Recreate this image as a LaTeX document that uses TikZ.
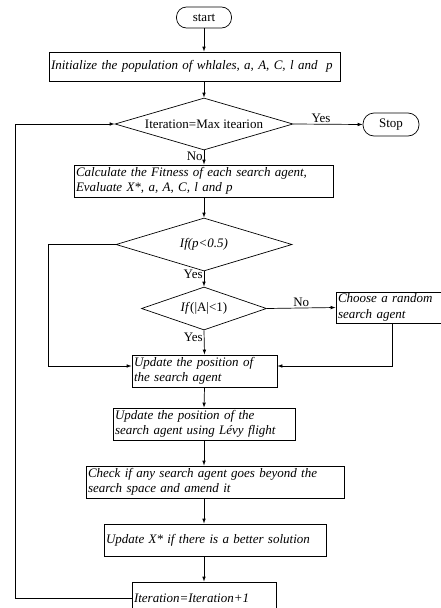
\documentclass[tikz,border=0pt]{standalone}
\usepackage{fontspec}
\setmainfont{Liberation Serif}
\usetikzlibrary{shapes.geometric,arrows.meta,positioning,calc}

\begin{document}
\begin{tikzpicture}[x=1pt, y=-1pt, line width=0.7pt,
  font=\fontsize{13}{15.5}\selectfont,
  procbox/.style={rectangle, draw, inner sep=2pt, align=left, font=\fontsize{13}{15.5}\selectfont\itshape},
  decision/.style={diamond, draw, inner sep=0pt, aspect=3.4},
  term/.style={rectangle, draw, rounded corners=10pt, inner sep=0pt},
  arr/.style={-{Latex[length=5pt,width=3.6pt]}},
  lbl/.style={inner sep=1pt}
]
  \useasboundingbox (0,0) rectangle (441,608);
  % start and initialization
  \node[term, minimum width=55, minimum height=21] (start) at (204,17.5) {start};
  \node[procbox, text width=287, minimum height=29] (init) at (194.5,66.5) {Initialize the population of whlales, a, A, C, l and~~p};
  % main loop test
  \node[decision, minimum width=178, minimum height=52] (d1) at (204,124) {Iteration=Max itearion};
  \node[term, minimum width=56, minimum height=23, rounded corners=11pt] (stop) at (391,124.5) {Stop};
  \node[procbox, text width=255, minimum height=32] (calc) at (203.5,181) {Calculate the Fitness of each search agent,\\Evaluate X*, a, A, C, l and p};
  % branches
  \node[decision, minimum width=176, minimum height=53] (d2) at (204,244.5) {\itshape If(p\textless0.5)};
  \node[decision, minimum width=125, minimum height=43, aspect=2.9] (d3) at (204,308.5) {\textit{If}(|A|\textless1)};
  \node[procbox, text width=102, minimum height=31] (choose) at (389,307.5) {Choose a random\\search agent};
  % updates
  \node[procbox, text width=141, minimum height=32] (upd1) at (204.5,371) {Update the position of\\the search agent};
  \node[procbox, text width=178, minimum height=32] (upd2) at (204,424) {Update the position of the\\search agent using Lévy flight};
  \node[procbox, text width=254, minimum height=32] (check) at (215,482) {Check if any search agent goes beyond the\\search space and amend it};
  \node[procbox, text width=218, minimum height=32] (updx) at (215,540) {Update X* if there is a better solution};
  \node[procbox, text width=140, minimum height=32] (iter) at (204,598) {Iteration=Iteration+1};

  % connectors
  \draw[arr] (start.south) -- (start.south |- init.north);
  \draw[arr] (start.south |- init.south) -- (d1.north);
  \draw[arr] (d1.east) -- node[lbl, above, pos=0.4] (yes1) {Yes} (stop.west);
  \draw[arr] (d1.south) -- node[lbl, left, pos=0.4] (no1) {No} (d1.south |- calc.north);
  \draw[arr] (d1.south |- calc.south) -- (d2.north);
  \draw[arr] (d2.south) -- node[lbl, left, pos=0.2] (yes2) {Yes} (d3.north);
  \draw[arr] (d3.east) -- node[lbl, above, pos=0.5] (no2) {No} (choose.west);
  \draw[arr] (d3.south) -- node[lbl, left, pos=0.3] (yes3) {Yes} (upd1.north);
  \draw[arr] (d2.west) -- ++(-67,0) |- ([yshift=5pt]upd1.west);
  \draw[arr] (choose.south -| 392,0) |- ([yshift=5pt]upd1.east);
  \draw[arr] (upd1.south) -- (upd2.north);
  \draw[arr] (upd2.south) -- (upd2.south |- check.north);
  \draw[arr] (upd2.south |- check.south) -- (upd2.south |- updx.north);
  \draw[arr] (upd2.south |- updx.south) -- (iter.north);
  \draw[arr] (iter.west) -- ++(-116,0) |- (d1.west);
\end{tikzpicture}
\end{document}
